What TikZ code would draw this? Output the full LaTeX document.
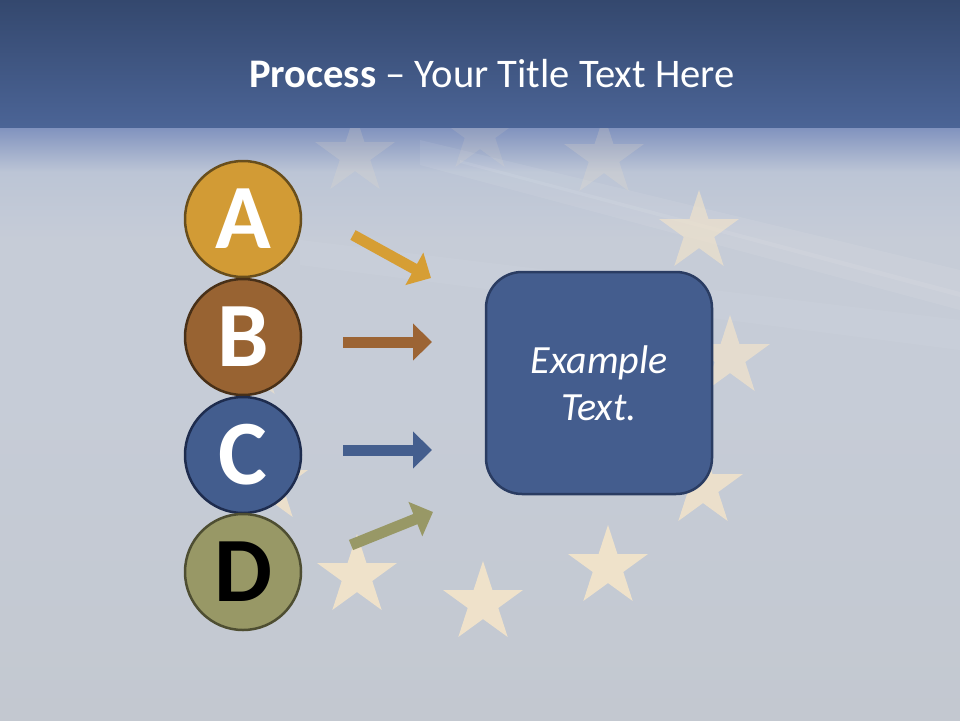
\documentclass[tikz,border=0pt]{standalone}
\usepackage{fontspec}
\setmainfont{Carlito}
\usetikzlibrary{arrows.meta,shapes.geometric}
\definecolor{bandtop}{RGB}{52,72,110}
\definecolor{bandbot}{RGB}{75,100,150}
\definecolor{fadetop}{RGB}{128,146,190}
\definecolor{bgmid}{RGB}{188,197,214}
\definecolor{bgcol}{RGB}{198,204,215}
\definecolor{bglow}{RGB}{195,200,208}
\definecolor{starcol}{RGB}{250,232,200}
\definecolor{fillA}{RGB}{210,155,53}
\definecolor{drawA}{RGB}{104,78,28}
\definecolor{fillB}{RGB}{152,99,50}
\definecolor{drawB}{RGB}{72,48,24}
\definecolor{fillC}{RGB}{67,93,142}
\definecolor{drawC}{RGB}{30,44,78}
\definecolor{fillD}{RGB}{152,152,102}
\definecolor{drawD}{RGB}{78,78,50}
\definecolor{arrA}{RGB}{214,158,52}
\definecolor{arrB}{RGB}{156,100,52}
\definecolor{arrC}{RGB}{68,94,142}
\definecolor{arrD}{RGB}{152,152,102}
\definecolor{boxfill}{RGB}{68,93,142}
\definecolor{boxdraw}{RGB}{42,60,98}
\begin{document}
\begin{tikzpicture}[x=1pt,y=-1pt,
  starshape/.style={star, star points=5, star point ratio=2.618, minimum size=84pt, inner sep=0pt, fill=starcol, draw=none},
  letter/.style={circle, minimum size=116pt, inner sep=0pt, line width=2.5pt, font=\fontsize{92}{92}\selectfont\bfseries},
  arr/.style={line width=11pt, -{Triangle[length=19pt,width=36pt]}},
  procbox/.style={draw=boxdraw, fill=boxfill, line width=2.5pt, rounded corners=36pt, minimum width=226pt, minimum height=222pt, text=white, align=center, font=\fontsize{40}{47}\selectfont\itshape}
]
\useasboundingbox (0,0) rectangle (960,720);
% background
\fill[bgcol] (0,0) rectangle (960,720);
\fill[top color=fadetop, bottom color=bgmid] (0,127) rectangle (960,172);
\fill[top color=bgmid, bottom color=bgcol] (0,172) rectangle (960,240);
\fill[top color=bgcol, bottom color=bglow] (0,400) rectangle (960,720);
% faint streaks
\fill[white, opacity=0.07] (420,140) -- (960,270) -- (960,310) -- (420,165) -- cycle;
\fill[white, opacity=0.08] (460,160) -- (960,292) -- (960,297) -- (460,163) -- cycle;
\fill[white, opacity=0.05] (300,240) -- (960,320) -- (960,350) -- (300,265) -- cycle;
% stars
\node[starshape, opacity=0.12] (s12) at (480,133) {};
\node[starshape, opacity=0.18] (s1) at (604,157) {};
\node[starshape, opacity=0.55] (s2) at (699,232) {};
\node[starshape, opacity=0.6] (s3) at (730,357) {};
\node[starshape, opacity=0.72] (s4) at (703,487) {};
\node[starshape, opacity=0.8] (s5) at (608,567) {};
\node[starshape, opacity=0.8] (s6) at (483,603) {};
\node[starshape, opacity=0.8] (s7) at (357,576) {};
\node[starshape, opacity=0.72] (s8) at (268,483) {};
\node[starshape, opacity=0.5] (s9) at (250,360) {};
\node[starshape, opacity=0.4] (s10) at (258,233) {};
\node[starshape, opacity=0.16] (s11) at (355,155) {};
% title band
\fill[top color=bandtop, bottom color=bandbot] (0,0) rectangle (960,127);
\node[text=white, font=\fontsize{40.6}{41}\selectfont, anchor=base] (title) at (492,87) {\textbf{Process} -- Your Title Text Here};
% circles
\node[letter, fill=fillA, draw=drawA, text=white] (A) at (243,219) {A};
\node[letter, fill=fillB, draw=drawB, text=white] (B) at (243,337) {B};
\node[letter, fill=fillC, draw=drawC, text=white] (C) at (243,455) {C};
\node[letter, fill=fillD, draw=drawD, text=black] (D) at (243,572) {D};
% box
\node[procbox] (box) at (599,383) {Example\\Text.};
% arrows
\coordinate (a1) at (353,235); \coordinate (a2) at (431,278);
\coordinate (b1) at (343,342); \coordinate (b2) at (432,342);
\coordinate (c1) at (343,450); \coordinate (c2) at (432,450);
\coordinate (d1) at (351,545); \coordinate (d2) at (433,512);
\draw[arr, arrA] (a1) -- (a2);
\draw[arr, arrB] (b1) -- (b2);
\draw[arr, arrC] (c1) -- (c2);
\draw[arr, arrD] (d1) -- (d2);
\end{tikzpicture}
\end{document}
